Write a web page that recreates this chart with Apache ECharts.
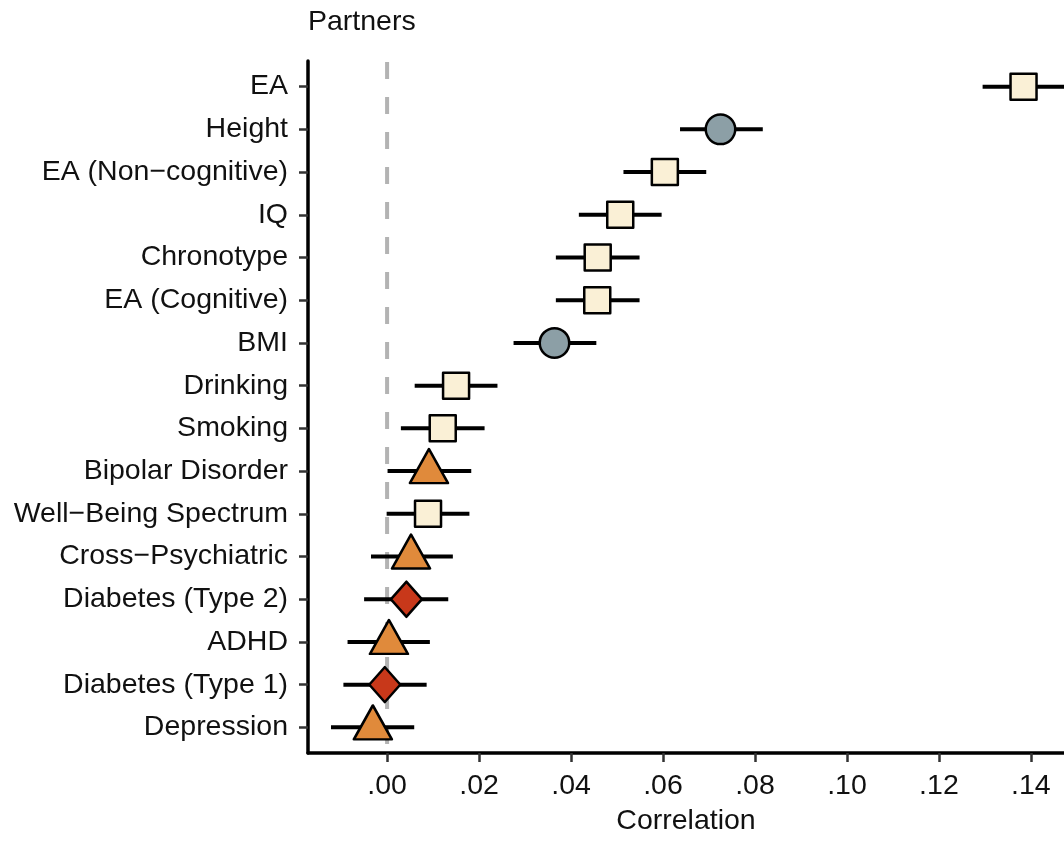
<!DOCTYPE html>
<html>
<head>
<meta charset="utf-8">
<script src="https://cdn.jsdelivr.net/npm/echarts@6/dist/echarts.min.js"></script>
<style>
html,body{margin:0;padding:0;background:#fff;overflow:hidden;}
#chart{width:1064px;height:841px;}
</style>
</head>
<body>
<div id="chart"></div>
<script>
// Categories listed top to bottom
const categories = ['EA','Height','EA (Non\u2212cognitive)','IQ','Chronotype','EA (Cognitive)','BMI','Drinking','Smoking','Bipolar Disorder','Well\u2212Being Spectrum','Cross\u2212Psychiatric','Diabetes (Type 2)','ADHD','Diabetes (Type 1)','Depression'];
const estimates = [0.1384,0.0725,0.0604,0.0507,0.0458,0.0457,0.0364,0.0150,0.0121,0.0091,0.0089,0.0052,0.0042,0.0004,-0.0005,-0.0031];
const lower     = [0.1295,0.0637,0.0514,0.0417,0.0367,0.0367,0.0275,0.0060,0.0030,0.0001,-0.0001,-0.0035,-0.0050,-0.0086,-0.0095,-0.0122];
const upper     = [0.1473,0.0817,0.0694,0.0597,0.0549,0.0549,0.0455,0.0240,0.0212,0.0183,0.0179,0.0143,0.0133,0.0093,0.0086,0.0059];
const groups    = ['square','circle','square','square','square','square','circle','square','square','triangle','square','triangle','diamond','triangle','diamond','triangle'];
const xTicks = [0,0.02,0.04,0.06,0.08,0.10,0.12,0.14];
const refLine = [0];

const n = categories.length;
const yIndex = i => n - 1 - i; // top row gets the highest value
const yTicks = categories.map((c,i)=>yIndex(i));
const FONT = '"Liberation Sans", Arial, Helvetica, sans-serif';
const FS = 28.5;

const chart = echarts.init(document.getElementById('chart'), null, {renderer:'canvas', width:1064, height:841});

const errData = categories.map((c,i)=>[lower[i], upper[i], yIndex(i)]);
function pts(shape){
  return categories.map((c,i)=> groups[i]===shape ? [estimates[i], yIndex(i)] : null).filter(d=>d);
}
const styles = {
  square:   {symbol:'rect', size:26, color:'#FAF0D6', offset:[0,0]},
  circle:   {symbol:'circle', size:29.5, color:'#8C9FA6', offset:[0,0]},
  triangle: {symbol:'triangle', size:[38,34], color:'#E08A3B', offset:[0,-5]},
  diamond:  {symbol:'diamond', size:[31,35], color:'#C8381A', offset:[0,0]}
};

const series = [
  {
    type:'custom', z:1, silent:true,
    data: refLine.map(v=>[v]),
    renderItem:function(params, api){
      const cs = params.coordSys;
      const x = api.coord([api.value(0), 0])[0];
      return {type:'line', shape:{x1:x, y1:cs.y, x2:x, y2:cs.y+cs.height},
        style:{stroke:'#B3B3B3', lineWidth:4, lineDash:[17,18], lineDashOffset:-1}};
    }
  },
  {
    type:'custom', z:2, silent:true,
    data: errData,
    renderItem:function(params, api){
      const a = api.coord([api.value(0), api.value(2)]);
      const b = api.coord([api.value(1), api.value(2)]);
      const cs = params.coordSys;
      const x1 = Math.max(a[0], cs.x), x2 = Math.min(b[0], cs.x + cs.width);
      return {type:'line', shape:{x1:x1,y1:a[1],x2:x2,y2:b[1]}, style:{stroke:'#000', lineWidth:4}};
    }
  }
];
['square','circle','triangle','diamond'].forEach(k=>{
  const s = styles[k];
  series.push({
    type:'scatter', z:3, silent:true,
    symbol:s.symbol, symbolSize:s.size, symbolOffset:s.offset,
    itemStyle:{color:s.color, borderColor:'#000', borderWidth:2.5, borderJoin:'round', opacity:1},
    data: pts(k)
  });
});

chart.setOption({
  animation:false,
  backgroundColor:'#fff',
  title:{text:'Partners', left:308, top:8, padding:0,
    textStyle:{fontFamily:FONT, fontSize:FS, fontWeight:'normal', color:'#111'}},
  grid:{left:308, width:756, top:61, height:699, containLabel:false},
  xAxis:{
    type:'value', min:-0.0172, max:0.1472,
    name:'Correlation', nameLocation:'middle', nameGap:54,
    nameTextStyle:{fontFamily:FONT, fontSize:FS, color:'#111'},
    axisLine:{show:true, onZero:false, lineStyle:{color:'#000', width:3.5}},
    axisTick:{show:true, customValues:xTicks, length:9, lineStyle:{color:'#333', width:2.5}},
    axisLabel:{customValues:xTicks, margin:19, fontFamily:FONT, fontSize:FS, color:'#111',
      formatter:v=>{ const s = Math.abs(v).toFixed(2).replace(/^0/,''); return v<0?'-'+s:s; }},
    splitLine:{show:false}
  },
  yAxis:{
    type:'value', min:-0.6, max:15.6,
    axisLine:{show:true, onZero:false, lineStyle:{color:'#000', width:3.5}},
    axisTick:{show:true, customValues:yTicks, length:9, lineStyle:{color:'#333', width:2.5}},
    axisLabel:{customValues:yTicks, margin:20, fontFamily:FONT, fontSize:FS, color:'#111',
      formatter:v=>categories[n-1-Math.round(v)]},
    splitLine:{show:false}
  },
  series: series
});
</script>
</body>
</html>
